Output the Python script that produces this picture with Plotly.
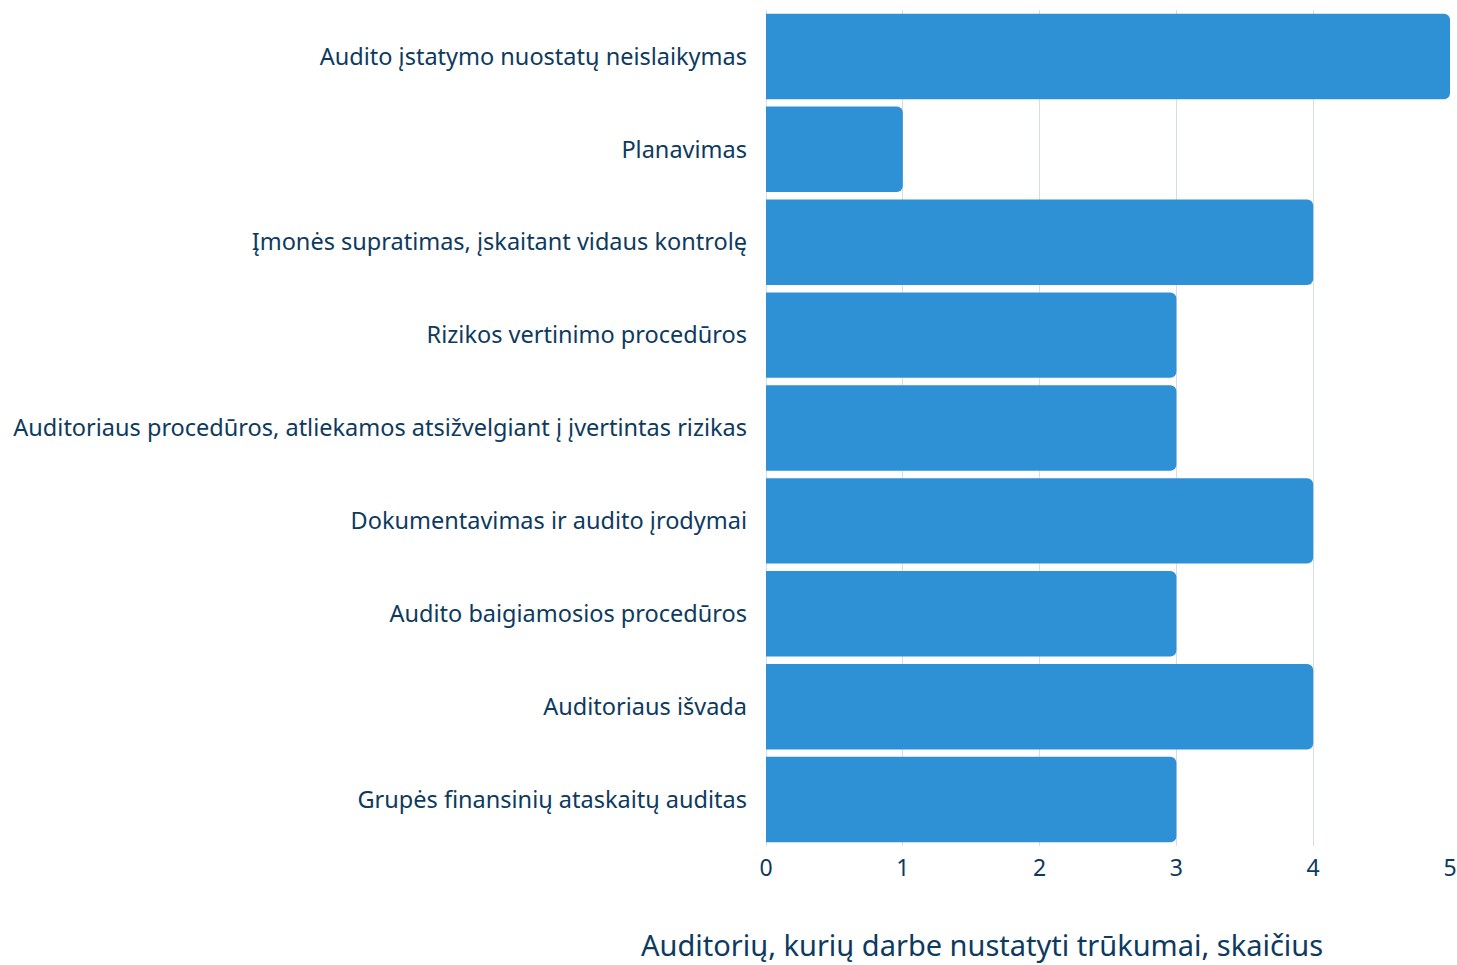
import plotly.graph_objects as go

categories = [
    "Audito įstatymo nuostatų neislaikymas",
    "Planavimas",
    "Įmonės supratimas, įskaitant vidaus kontrolę",
    "Rizikos vertinimo procedūros",
    "Auditoriaus procedūros, atliekamos atsižvelgiant į įvertintas rizikas",
    "Dokumentavimas ir audito įrodymai",
    "Audito baigiamosios procedūros",
    "Auditoriaus išvada",
    "Grupės finansinių ataskaitų auditas",
]
values = [5, 1, 4, 3, 3, 4, 3, 4, 3]
x_ticks = [0, 1, 2, 3, 4, 5]
axis_title = "Auditorių, kurių darbe nustatyti trūkumai, skaičius"

TEXT = "#0e3a60"
FONT = "Noto Sans"

fig = go.Figure(go.Bar(
    x=values, y=categories, orientation="h",
    marker=dict(color="#2e91d5", cornerradius=6, line=dict(width=0)),
    hoverinfo="x+y",
))

fig.update_layout(
    width=1457, height=965,
    margin=dict(l=766, r=7, t=10, b=119, autoexpand=False),
    paper_bgcolor="white", plot_bgcolor="white",
    bargap=0.08,
    showlegend=False,
    font=dict(family=FONT, color=TEXT, size=22),
    annotations=[dict(
        text=axis_title, xref="paper", yref="paper",
        x=0.316, y=-0.1175, xanchor="center", yanchor="middle",
        showarrow=False, font=dict(family=FONT, size=29, color=TEXT),
    )],
)
fig.update_xaxes(
    range=[0, 5], tickvals=x_ticks, showgrid=True, gridcolor="#d6dde7", gridwidth=1,
    zeroline=True, zerolinecolor="#d6dde7", zerolinewidth=1,
    showline=False, ticks="", tickfont=dict(size=23, color=TEXT),
    ticklabelstandoff=6,
)
fig.update_yaxes(
    autorange="reversed", showgrid=False, showline=False, ticks="",
    tickfont=dict(size=23.5, color=TEXT), ticklabelstandoff=18,
)

fig.write_html("out.html")
